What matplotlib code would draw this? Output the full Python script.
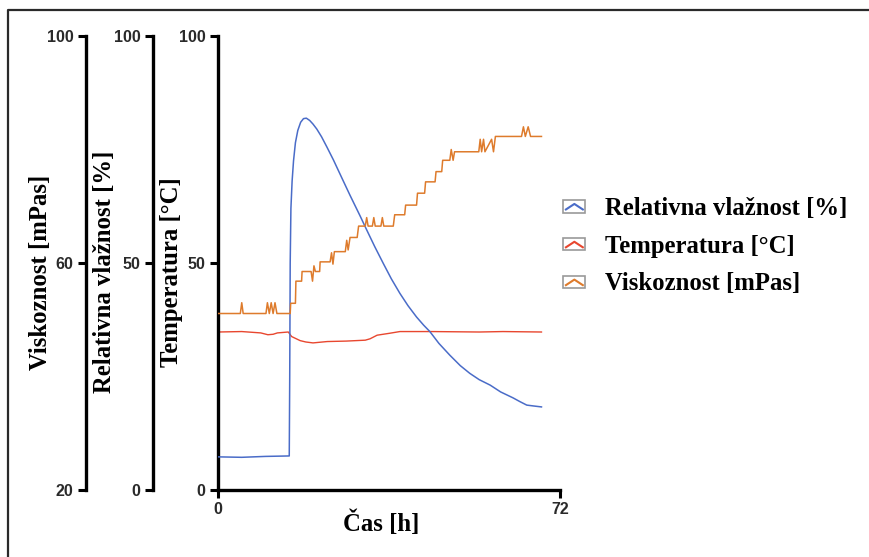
import matplotlib
matplotlib.use('Agg')
import matplotlib.pyplot as plt
from matplotlib.legend_handler import HandlerBase
from matplotlib.patches import Rectangle
from matplotlib.lines import Line2D

# time [h] and values
hum_t = [0, 5, 10, 15.0, 15.1, 15.2, 15.35, 15.6, 15.9, 16.3, 16.8, 17.4, 18.0,
         18.6, 19.3, 20.0, 20.8, 21.8, 22.9, 24.3, 26.0, 27.8, 29.9, 31.3, 33.0,
         34.8, 36.5, 38.3, 40.0, 41.8, 43.3, 44.6, 46.5, 48.8, 51.0, 53.0, 55.0,
         57.3, 59.5, 62.1, 63.5, 65.0, 66.5, 68.1]
hum_v = [7.3, 7.2, 7.4, 7.5, 25, 50, 62, 68, 72.5, 76.5, 79.2, 81.0, 81.8,
         81.9, 81.4, 80.6, 79.5, 77.8, 75.6, 72.7, 68.9, 64.9, 60.4, 57.3, 53.6,
         49.9, 46.5, 43.3, 40.6, 38.1, 36.3, 34.9, 32.3, 29.7, 27.4, 25.7, 24.3,
         23.1, 21.6, 20.3, 19.5, 18.7, 18.5, 18.3]

temp_t = [0, 5, 9, 10.5, 11.6, 12.5, 14.8, 15.5, 16.5, 17.3, 18.5, 20.0, 23.0,
          27.0, 31.0, 32.0, 33.5, 36.0, 38.3, 45.0, 55.0, 60.0, 68.1]
temp_v = [34.8, 34.9, 34.6, 34.2, 34.3, 34.6, 34.8, 33.8, 33.3, 32.9, 32.6, 32.4,
          32.7, 32.8, 33.0, 33.3, 34.1, 34.5, 34.9, 34.9, 34.8, 34.9, 34.8]

visc_t = [0, 4.7, 5.0, 5.3, 10.1, 10.4, 10.8, 11.2, 11.6, 12.0, 12.4,
          15.2, 15.3, 16.3, 16.4, 17.6, 17.7, 19.6, 19.9, 20.2, 20.5, 21.4, 21.5,
          23.6, 23.9, 24.2, 24.5, 26.8, 27.1, 27.4, 27.8, 29.3, 29.6, 31.0, 31.3,
          31.6, 32.5, 32.8, 33.1, 34.3, 34.6, 34.9, 36.9, 37.2, 39.3, 39.5, 41.8,
          42.0, 43.5, 43.7, 45.7, 45.9, 47.1, 47.3, 48.8, 49.1, 49.5, 49.8, 54.9,
          55.2, 55.5, 55.9, 56.2, 57.6, 58.0, 58.4, 63.9, 64.3, 64.7, 65.3, 65.8,
          68.1]
visc_v = [51.1, 51.1, 53.0, 51.1, 51.1, 53.0, 51.1, 53.0, 51.1, 53.0, 51.1,
          51.1, 52.9, 52.9, 56.8, 56.8, 58.5, 58.5, 56.8, 59.5, 58.5, 58.5, 60.2,
          60.2, 61.8, 59.8, 62.0, 62.0, 64.0, 62.3, 64.5, 64.5, 66.5, 66.5, 68.0,
          66.5, 66.5, 68.0, 66.5, 66.5, 68.0, 66.5, 66.5, 68.5, 68.5, 70.2, 70.2,
          72.3, 72.3, 74.3, 74.3, 76.1, 76.1, 78.1, 78.1, 80.0, 78.1, 79.6, 79.6,
          81.8, 79.6, 81.8, 79.6, 81.8, 79.6, 82.3, 82.3, 84.0, 82.3, 84.0, 82.3,
          82.3]

labels = ['Relativna vlažnost [%]', 'Temperatura [°C]', 'Viskoznost [mPas]']
colors = ['#4a6cc8', '#e8472f', '#de7b2c']

serif = 'Liberation Serif'
sans = 'Liberation Sans'


class BoxCaret(HandlerBase):
    def create_artists(self, legend, orig_handle, xdescent, ydescent, width,
                       height, fontsize, trans):
        x0, y0 = -xdescent, -ydescent
        box = Rectangle((x0, y0 + height * 0.12), width, height * 0.7,
                        fc='white', ec='#9a9a9a', lw=1.2, transform=trans)
        ln = Line2D([x0 + width * 0.12, x0 + width * 0.5, x0 + width * 0.88],
                    [y0 + height * 0.3, y0 + height * 0.62, y0 + height * 0.3],
                    color=orig_handle.get_color(), lw=1.5, transform=trans)
        return [box, ln]


fig = plt.figure(figsize=(8.7, 5.57), dpi=100)
ax = fig.add_axes([218 / 870, 1 - 490 / 557, 342 / 870, 454 / 557])
ax_h = ax.twinx()
ax_v = ax.twinx()

l_t, = ax.plot(temp_t, temp_v, color=colors[1], lw=1.0)
l_h, = ax_h.plot(hum_t, hum_v, color=colors[0], lw=1.1)
l_v, = ax_v.plot(visc_t, visc_v, color=colors[2], lw=1.1)

ax.set_xlim(0, 72)
ax.set_ylim(0, 100)
ax_h.set_ylim(0, 100)
ax_v.set_ylim(20, 100)
ax.set_xticks([0, 72])
ax.set_yticks([0, 50, 100])
ax_h.set_yticks([0, 50, 100])
ax_v.set_yticks([20, 60, 100])

for a, pos in [(ax, 0), (ax_h, -0.19), (ax_v, -0.386)]:
    for s in ['top', 'right']:
        a.spines[s].set_visible(False)
    a.spines['left'].set_visible(True)
    a.spines['left'].set_position(('axes', pos))
    a.spines['left'].set_linewidth(2.4)
    a.yaxis.set_ticks_position('left')
    a.yaxis.set_label_position('left')
    a.tick_params(axis='y', length=6, width=2.2, pad=3, labelsize=11.5,
                  labelcolor='#2a2a2a')
    for t in a.get_yticklabels():
        t.set_fontfamily(sans)
        t.set_fontweight('bold')
for a in [ax_h, ax_v]:
    a.spines['bottom'].set_visible(False)
    a.patch.set_visible(False)
ax.spines['bottom'].set_linewidth(2.4)
ax.tick_params(axis='x', length=6, width=2.2, pad=3, labelsize=11.5,
               labelcolor='#2a2a2a')
for t in ax.get_xticklabels():
    t.set_fontfamily(sans)
    t.set_fontweight('bold')

lab_font = dict(family=serif, weight='bold', size=17.8)
ax.set_ylabel('Temperatura [°C]', **lab_font)
ax_h.set_ylabel('Relativna vlažnost [%]', **lab_font)
ax_v.set_ylabel('Viskoznost [mPas]', **lab_font)
ax.yaxis.set_label_coords(-0.102, 0.48)
ax_h.yaxis.set_label_coords(-0.298, 0.48)
ax_v.yaxis.set_label_coords(-0.485, 0.48)
ax.set_xlabel('Čas [h]', **lab_font)
ax.xaxis.set_label_coords(0.477, -0.045)
ax.xaxis.label.set_va('top')

fig.legend([l_h, l_t, l_v], labels, handler_map={Line2D: BoxCaret()},
           loc='center left', bbox_to_anchor=(541 / 870, 1 - 246 / 557),
           frameon=False, prop=dict(family=serif, weight='bold', size=17.8),
           handlelength=0.9, handleheight=0.7, handletextpad=0.8,
           labelspacing=0.6)

# frame round the picture (top and left edge only are visible)
fig.add_artist(Line2D([8 / 870, 8 / 870, 1], [0, 1 - 10 / 557, 1 - 10 / 557],
                      transform=fig.transFigure, color='#2a2a2a', lw=1.6))

fig.savefig('out.png', dpi=100)
